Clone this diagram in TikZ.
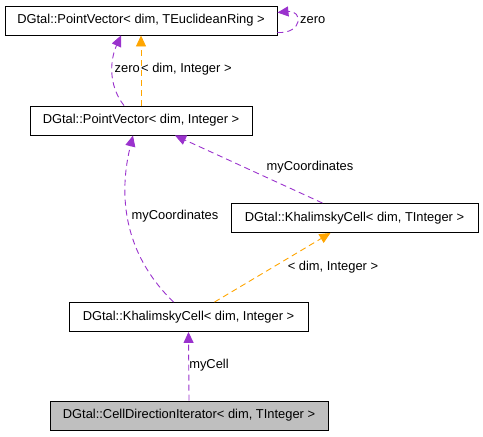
\documentclass[tikz,border=0pt]{standalone}
\usepackage{fontspec}
\setmainfont{Liberation Sans}
\usetikzlibrary{arrows.meta}
\definecolor{edgepurple}{HTML}{9A32CD}
\definecolor{edgeorange}{HTML}{FFA500}
\definecolor{boxgray}{HTML}{BFBFBF}
\begin{document}
\begin{tikzpicture}[x=1pt,y=-1pt,
  cls/.style={draw=black, line width=0.9pt, fill=white, minimum height=29pt, inner sep=0pt, font=\fontsize{12.9}{14}\selectfont},
  lbl/.style={font=\fontsize{12.9}{14}\selectfont, inner sep=1pt},
  use/.style={draw=edgepurple, dash pattern=on 6pt off 4pt, line width=0.9pt, -{Triangle[length=11pt,width=10pt]}},
  inh/.style={draw=edgeorange, dash pattern=on 6pt off 4pt, line width=0.9pt, -{Triangle[length=11pt,width=10pt]}}]
\useasboundingbox (0,0) rectangle (483,437);
\node[cls, minimum width=272pt] (pvr) at (141,20.5) {DGtal::PointVector< dim, TEuclideanRing >};
\node[cls, minimum width=222pt] (pvi) at (141,120.5) {DGtal::PointVector< dim, Integer >};
\node[cls, minimum width=247pt] (kct) at (354.5,218) {DGtal::KhalimskyCell< dim, TInteger >};
\node[cls, minimum width=239pt] (kci) at (188.5,317) {DGtal::KhalimskyCell< dim, Integer >};
\node[cls, minimum width=278pt, fill=boxgray] (cdi) at (189,415.5) {DGtal::CellDirectionIterator< dim, TInteger >};
% self loop
\draw[use] ([yshift=3pt]pvr.south east) .. controls (303,34) and (303,10) .. ([yshift=-7pt]pvr.north east);
\node[lbl, anchor=west] (lz1) at (299,20) {zero};
% pvi -> pvr purple
\draw[use] ([xshift=-17pt]pvi.north) .. controls (108,85) and (110,60) .. ([xshift=-20pt]pvr.south);
\node[lbl, anchor=east] (lz2) at (141,69) {zero};
% pvi -> pvr orange
\draw[inh] (pvi.north) -- (pvr.south);
\node[lbl, anchor=west] (li1) at (140,69) {< dim, Integer >};
% kct -> pvi
\draw[use] ([xshift=-32pt]kct.north) -- ([xshift=34pt]pvi.south);
\node[lbl] (lmc1) at (310,167) {myCoordinates};
% kci -> pvi
\draw[use] ([xshift=-15pt]kci.north) .. controls (115,245) and (122,180) .. ([xshift=-8pt]pvi.south);
\node[lbl] (lmc2) at (175,216) {myCoordinates};
% kci -> kct
\draw[inh] ([xshift=26pt]kci.north) -- ([xshift=-24pt]kct.south);
\node[lbl] (li2) at (333,267) {< dim, Integer >};
% cdi -> kci
\draw[use] (cdi.north) -- (kci.south);
\node[lbl] (lcell) at (209,365) {myCell};
\end{tikzpicture}
\end{document}
